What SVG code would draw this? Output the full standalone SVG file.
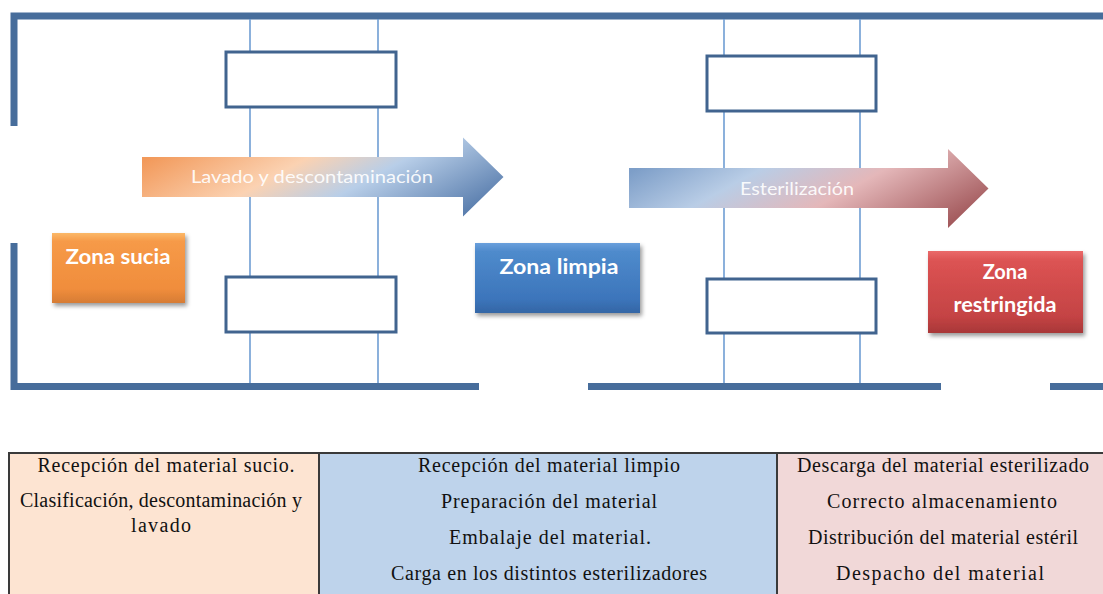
<svg xmlns="http://www.w3.org/2000/svg" width="1103" height="594" viewBox="0 0 1103 594">
<style>
.wall{stroke:#476d9b;stroke-width:7;fill:none;stroke-linecap:butt}
.guide{stroke:#6f9dd3;stroke-width:1.6;fill:none}
.door{fill:#ffffff;stroke:#41648f;stroke-width:3}
.arrowtxt{font-family:Lato,"Open Sans",sans-serif;font-size:18px;fill:#ffffff;fill-opacity:0.92;text-anchor:middle}
.zonetxt{font-family:Lato,"Open Sans",sans-serif;font-size:20px;font-weight:bold;fill:#ffffff;text-anchor:middle}
.cell{stroke:#3a3a3a;stroke-width:2}
.tt{font-family:"Liberation Serif","Times New Roman",serif;font-size:20px;fill:#111111;text-anchor:middle}
</style>
<defs>
<linearGradient id="gA1" x1="0" y1="0.3" x2="1" y2="0.7">
<stop offset="0" stop-color="#f2995a"/>
<stop offset="0.38" stop-color="#fbd2b2"/>
<stop offset="0.62" stop-color="#b8cee8"/>
<stop offset="1" stop-color="#5a7eae"/>
</linearGradient>
<linearGradient id="gA2" x1="0" y1="0.3" x2="1" y2="0.7">
<stop offset="0" stop-color="#7d9ec8"/>
<stop offset="0.3" stop-color="#b9cde6"/>
<stop offset="0.6" stop-color="#e4b7b9"/>
<stop offset="1" stop-color="#a2585b"/>
</linearGradient>
<linearGradient id="gOr" x1="0" y1="0" x2="0" y2="1">
<stop offset="0" stop-color="#fbb868"/>
<stop offset="0.12" stop-color="#f69a48"/>
<stop offset="0.8" stop-color="#f08d3c"/>
<stop offset="1" stop-color="#d67c35"/>
</linearGradient>
<linearGradient id="gBl" x1="0" y1="0" x2="0" y2="1">
<stop offset="0" stop-color="#6aa0dc"/>
<stop offset="0.12" stop-color="#4f8bcc"/>
<stop offset="0.8" stop-color="#3c75bb"/>
<stop offset="1" stop-color="#3466a5"/>
</linearGradient>
<linearGradient id="gRd" x1="0" y1="0" x2="0" y2="1">
<stop offset="0" stop-color="#ea6a6a"/>
<stop offset="0.12" stop-color="#dc5353"/>
<stop offset="0.8" stop-color="#c44344"/>
<stop offset="1" stop-color="#a83738"/>
</linearGradient>
<filter id="sh" x="-20%" y="-20%" width="140%" height="150%">
<feDropShadow dx="2" dy="3" stdDeviation="2" flood-color="#000" flood-opacity="0.4"/>
</filter>
</defs>

<g id="walls">
<path class="wall" d="M14 126 V16 H1103"/>
<path class="wall" d="M14 243 V386.5 H479"/>
<line class="wall" x1="588" y1="386.5" x2="941" y2="386.5"/>
<line class="wall" x1="1050" y1="386.5" x2="1103" y2="386.5"/>
</g>

<g id="connectors">
<line class="guide" x1="250" y1="19" x2="250" y2="383"/>
<line class="guide" x1="378" y1="19" x2="378" y2="383"/>
<line class="guide" x1="724" y1="19" x2="724" y2="383"/>
<line class="guide" x1="860" y1="19" x2="860" y2="383"/>
</g>

<g id="door-left-top"><rect class="door" x="226" y="52" width="170" height="55"/></g>
<g id="door-left-bottom"><rect class="door" x="226" y="277" width="170" height="55"/></g>
<g id="door-right-top"><rect class="door" x="707" y="56" width="169" height="55"/></g>
<g id="door-right-bottom"><rect class="door" x="707" y="279" width="169" height="54"/></g>

<g id="arrow-lavado">
<polygon points="142,157 463,157 463,137.5 503.5,177 463,216.5 463,197 142,197" fill="url(#gA1)"/>
<text class="arrowtxt" x="312" y="183" textLength="242" lengthAdjust="spacingAndGlyphs">Lavado y descontaminación</text>
</g>

<g id="arrow-esterilizacion">
<polygon points="629,168 948,168 948,149 988.5,188.5 948,228 948,208 629,208" fill="url(#gA2)"/>
<text class="arrowtxt" x="797" y="195" textLength="114" lengthAdjust="spacingAndGlyphs">Esterilización</text>
</g>

<g id="zona-sucia">
<rect x="52" y="233" width="133" height="70" fill="url(#gOr)" filter="url(#sh)"/>
<text class="zonetxt" x="118" y="264" textLength="105" lengthAdjust="spacingAndGlyphs">Zona sucia</text>
</g>

<g id="zona-limpia">
<rect x="475" y="243" width="165" height="70" fill="url(#gBl)" filter="url(#sh)"/>
<text class="zonetxt" x="559" y="274" textLength="119" lengthAdjust="spacingAndGlyphs">Zona limpia</text>
</g>

<g id="zona-restringida">
<rect x="928" y="251" width="155" height="82" fill="url(#gRd)" filter="url(#sh)"/>
<text class="zonetxt" x="1005" y="279">Zona</text>
<text class="zonetxt" x="1005" y="312" textLength="103" lengthAdjust="spacingAndGlyphs">restringida</text>
</g>

<g id="table">
<rect class="cell" x="9" y="453" width="310" height="150" fill="#fde4d2"/>
<rect class="cell" x="319" y="453" width="458" height="150" fill="#bed3eb"/>
<rect class="cell" x="777" y="453" width="340" height="150" fill="#f1d8d8"/>
</g>

<g id="col-sucia">
<text class="tt" x="166" y="472" textLength="257" lengthAdjust="spacing">Recepción del material sucio.</text>
<text class="tt" x="161" y="507" textLength="282" lengthAdjust="spacing">Clasificación, descontaminación y</text>
<text class="tt" x="161" y="532" textLength="60" lengthAdjust="spacing">lavado</text>
</g>

<g id="col-limpia">
<text class="tt" x="549" y="472" textLength="262" lengthAdjust="spacing">Recepción del material limpio</text>
<text class="tt" x="549" y="508" textLength="216" lengthAdjust="spacing">Preparación del material</text>
<text class="tt" x="550" y="544" textLength="202" lengthAdjust="spacing">Embalaje del material.</text>
<text class="tt" x="549" y="580" textLength="316" lengthAdjust="spacing">Carga en los distintos esterilizadores</text>
</g>

<g id="col-restringida">
<text class="tt" x="943" y="472" textLength="292" lengthAdjust="spacing">Descarga del material esterilizado</text>
<text class="tt" x="942" y="508" textLength="230" lengthAdjust="spacing">Correcto almacenamiento</text>
<text class="tt" x="943" y="544" textLength="270" lengthAdjust="spacing">Distribución del material estéril</text>
<text class="tt" x="940" y="580" textLength="208" lengthAdjust="spacing">Despacho del material</text>
</g>
</svg>
